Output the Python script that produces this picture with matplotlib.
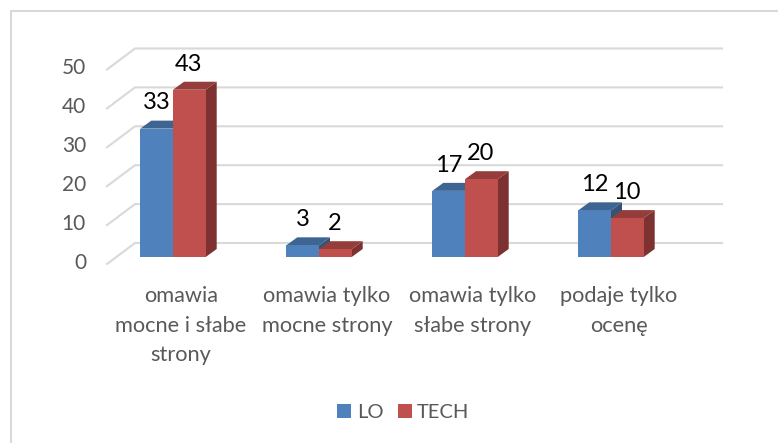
import matplotlib
matplotlib.use("Agg")
import matplotlib.pyplot as plt
from matplotlib.patches import Polygon, Rectangle
from matplotlib.lines import Line2D

categories = ["omawia\nmocne i słabe\nstrony", "omawia tylko\nmocne strony",
              "omawia tylko\nsłabe strony", "podaje tylko\nocenę"]
lo_values = [33, 3, 17, 12]
tech_values = [43, 2, 20, 10]
y_ticks = [0, 10, 20, 30, 40, 50]
series_names = ["LO", "TECH"]

W, H = 778, 443
BLUE, BLUE_TOP, BLUE_SIDE = "#4F81BD", "#3E6491", "#335478"
RED, RED_TOP, RED_SIDE = "#C0504D", "#943D3B", "#7D3130"
GRID = "#D9D9D9"
TEXT = "#595959"

plt.rcParams["font.family"] = ["Lato", "DejaVu Sans"]
fig = plt.figure(figsize=(W / 100, H / 100), dpi=100)
fig.patch.set_facecolor("white")

# frame, in figure pixels
fig.add_artist(Line2D([10.5 / W, 10.5 / W, 1], [0, 1 - 11 / H, 1 - 11 / H],
                      color=GRID, lw=1.5, transform=fig.transFigure))

# axes: category i is at x pixel 173+146*i, value v at y pixel 257-3.89*v
px_x0, px_x1 = 90, 740
px_ybot, px_ytop = 290, 20
ax = fig.add_axes([px_x0 / W, 1 - px_ybot / H, (px_x1 - px_x0) / W, (px_ybot - px_ytop) / H])
ax.set_xlim((px_x0 - 173) / 146, (px_x1 - 173) / 146)
ax.set_ylim((257 - px_ybot) / 3.89, (257 - px_ytop) / 3.89)
ax.axis("off")

bar_w = 32.7 / 146
dx = 11 / 146
dy = 8 / 3.89
wall_left = (135 - 173) / 146
wall_right = (722 - 173) / 146
floor_left = (107 - 173) / 146
back_off = 14 / 3.89
front_off = -7 / 3.89

for t in y_ticks:
    ax.plot([floor_left, wall_left, wall_right], [t + front_off, t + back_off, t + back_off],
            color=GRID, lw=1.5, solid_joinstyle="miter", clip_on=False, zorder=1)
    ax.text((86 - 173) / 146, t - 1.5, str(t), ha="right", va="center",
            color=TEXT, fontsize=15, zorder=5)


def bar3d(x0, v, face, top, side, z):
    x1 = x0 + bar_w
    ax.add_patch(Polygon([(x1, 0), (x1 + dx, dy), (x1 + dx, v + dy), (x1, v)], fc=side, ec="none", zorder=z))
    ax.add_patch(Polygon([(x0, v), (x0 + dx, v + dy), (x1 + dx, v + dy), (x1, v)], fc=top, ec="none", zorder=z))
    ax.add_patch(Rectangle((x0, 0), bar_w, v, fc=face, ec="none", zorder=z + 0.1))


for i, (a, b) in enumerate(zip(lo_values, tech_values)):
    bar3d(i - bar_w, a, BLUE, BLUE_TOP, BLUE_SIDE, 2)
    bar3d(i, b, RED, RED_TOP, RED_SIDE, 3)
    ax.text(i - bar_w * 0.22 - 0.06, a + 3.9, str(a), ha="center", va="bottom", color="black",
            fontsize=17, zorder=6)
    ax.text(i + bar_w * 0.22 + 0.06, b + 3.9, str(b), ha="center", va="bottom", color="black",
            fontsize=17, zorder=6)
    ax.text(i + 0.055, (257 - 286) / 3.89, categories[i], ha="center", va="top", color=TEXT,
            fontsize=15.7, linespacing=1.6, clip_on=False, zorder=6)

# legend, in figure pixels
for px, color, name, tx in [(337, BLUE, series_names[0], 357), (398, RED, series_names[1], 417)]:
    fig.add_artist(Rectangle((px / W, 1 - 418 / H), 14 / W, 14 / H, fc=color, ec="none",
                             transform=fig.transFigure))
    fig.text(tx / W, 1 - 412 / H, name, ha="left", va="center", color=TEXT, fontsize=14.5)

fig.savefig("out.png", dpi=100)
